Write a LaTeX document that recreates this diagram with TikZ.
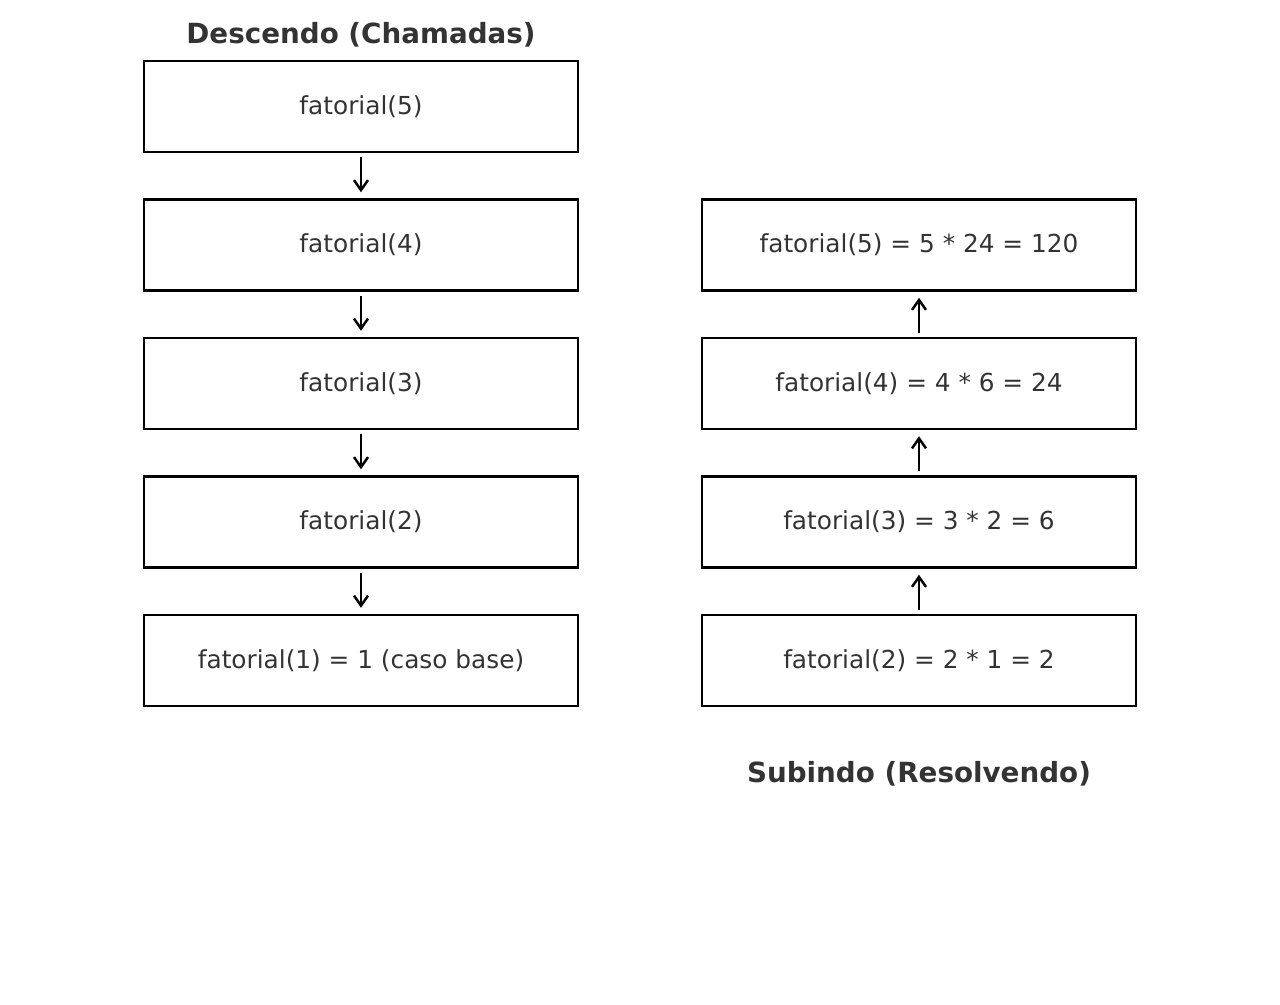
\documentclass[tikz,border=0pt]{standalone}
\usepackage{fontspec}
\setmainfont{DejaVu Sans}
\usepackage{tikz}
\usetikzlibrary{arrows.meta}
\definecolor{textgray}{HTML}{333333}
\tikzset{%
  callbox/.style  = {shape=rectangle, draw=black, line width=1.4pt,%
                     minimum width=8.68cm, minimum height=1.82cm,%
                     inner sep=0pt, text=textgray, font=\fontsize{14.1}{16}\selectfont},%
  phase/.style    = {text=textgray, font=\bfseries\fontsize{15.8}{18}\selectfont},%
  flow/.style     = {line width=1.4pt, -{Straight Barb[length=0.2cm,width=0.28cm]},%
                     shorten <=0.08cm, shorten >=0.12cm}%
}
\begin{document}
\begin{tikzpicture}
	\useasboundingbox (0,0) rectangle (25.6,-20.08);
	% descendo
	\node [phase] (tdown) at (7.22,-0.7) {Descendo (Chamadas)};
	\node [callbox] (d5) at (7.22,-2.13) {fatorial(5)};
	\node [callbox] (d4) at (7.22,-4.9) {fatorial(4)};
	\node [callbox] (d3) at (7.22,-7.67) {fatorial(3)};
	\node [callbox] (d2) at (7.22,-10.44) {fatorial(2)};
	\node [callbox] (d1) at (7.22,-13.21) {fatorial(1) = 1 (caso base)};
	\draw [flow] (d5) -- (d4);
	\draw [flow] (d4) -- (d3);
	\draw [flow] (d3) -- (d2);
	\draw [flow] (d2) -- (d1);
	% subindo
	\node [callbox] (u5) at (18.38,-4.9) {fatorial(5) = 5 * 24 = 120};
	\node [callbox] (u4) at (18.38,-7.67) {fatorial(4) = 4 * 6 = 24};
	\node [callbox] (u3) at (18.38,-10.44) {fatorial(3) = 3 * 2 = 6};
	\node [callbox] (u2) at (18.38,-13.21) {fatorial(2) = 2 * 1 = 2};
	\node [phase] (tup) at (18.38,-15.48) {Subindo (Resolvendo)};
	\draw [flow] (u4) -- (u5);
	\draw [flow] (u3) -- (u4);
	\draw [flow] (u2) -- (u3);
\end{tikzpicture}
\end{document}
